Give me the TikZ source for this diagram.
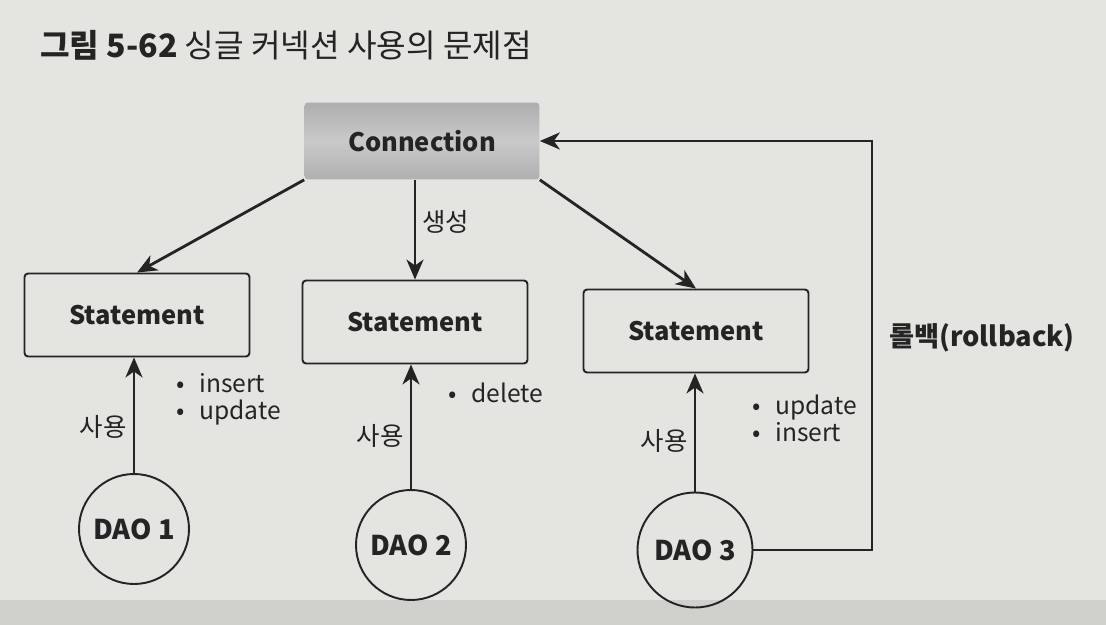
\documentclass[tikz,border=0pt]{standalone}
\usepackage{fontspec}
\setmainfont{Noto Sans CJK KR}
\usepackage{tikz}
\usetikzlibrary{arrows.meta,positioning,calc}
\usepackage{xcolor}
\definecolor{pagec}{RGB}{228,228,225}
\definecolor{bandc}{RGB}{208,208,205}
\definecolor{inkc}{RGB}{36,36,36}

\begin{document}
\begin{tikzpicture}[
  x=0.02cm, y=-0.02cm,
  stmt/.style={draw=inkc, rounded corners=2pt, line width=1.1pt, minimum width=4.5cm,
    minimum height=1.66cm, font=\fontsize{14.5}{17}\selectfont\bfseries, text=inkc},
  connbox/.style={rounded corners=2pt, minimum width=4.7cm, minimum height=1.54cm,
    top color=gray!64, bottom color=gray!62, middle color=gray!42,
    font=\fontsize{14.5}{17}\selectfont\bfseries, text=inkc},
  dao/.style={circle, draw=inkc, line width=1.1pt, minimum size=2.2cm, inner sep=0pt,
    font=\fontsize{15.5}{18}\selectfont\bfseries, text=inkc},
  arr/.style={-{Stealth[length=4mm, width=3.4mm, inset=1.2mm]}, line width=1.6pt, draw=inkc},
  lbl/.style={font=\fontsize{14.5}{17}\selectfont, text=inkc, align=left},
  ops/.style={font=\fontsize{14}{15.5}\selectfont, text=inkc, align=left}
]
  % page
  \fill[pagec] (0,0) rectangle (1106,625);
  \fill[bandc] (0,600) rectangle (1106,625);

  \node[anchor=west, font=\fontsize{18.3}{21}\selectfont, text=inkc] (title) at (34,45)
    {\textbf{그림 5-62} 싱글 커넥션 사용의 문제점};

  \node[connbox] (conn) at (422,141) {Connection};
  \node[stmt] (st1) at (137,315) {Statement};
  \node[stmt] (st2) at (415,322) {Statement};
  \node[stmt] (st3) at (696,331) {Statement};
  \node[dao] (dao1) at (134,529) {DAO 1};
  \node[dao] (dao2) at (411,545) {DAO 2};
  \node[dao, minimum size=2.3cm] (dao3) at (695,550) {DAO 3};

  \draw[arr] (conn.south west) -- (st1.north);
  \draw[arr] (st2.north |- conn.south) -- node[right, lbl, pos=0.42] {생성} (st2.north);
  \draw[arr] (conn.south east) -- (st3.north);

  \draw[arr] (dao1.north) -- node[left, lbl, pos=0.4] {사용}
    node[right, ops, pos=0.64, xshift=0.7cm] {\textbullet\hspace{0.6em}insert\\ \textbullet\hspace{0.6em}update}
    (dao1.north |- st1.south);
  \draw[arr] (dao2.north) -- node[left, lbl, pos=0.43] {사용}
    node[right, ops, pos=0.77, xshift=0.6cm] {\textbullet\hspace{0.6em}delete}
    (dao2.north |- st2.south);
  \draw[arr] (dao3.north) -- node[left, lbl, pos=0.43] {사용}
    node[right, ops, pos=0.62, xshift=1.0cm] {\textbullet\hspace{0.6em}update\\ \textbullet\hspace{0.6em}insert}
    (dao3.north |- st3.south);

  % rollback back to the shared connection
  \coordinate (rbx) at (872,0);
  \draw[arr] (dao3.east) -- (dao3.east -| rbx)
    -- node[right=0.2cm, lbl, font=\fontsize{15.5}{18}\selectfont\bfseries, pos=0.52] {롤백(rollback)}
    (conn.east -| rbx) -- (conn.east);
\end{tikzpicture}
\end{document}
